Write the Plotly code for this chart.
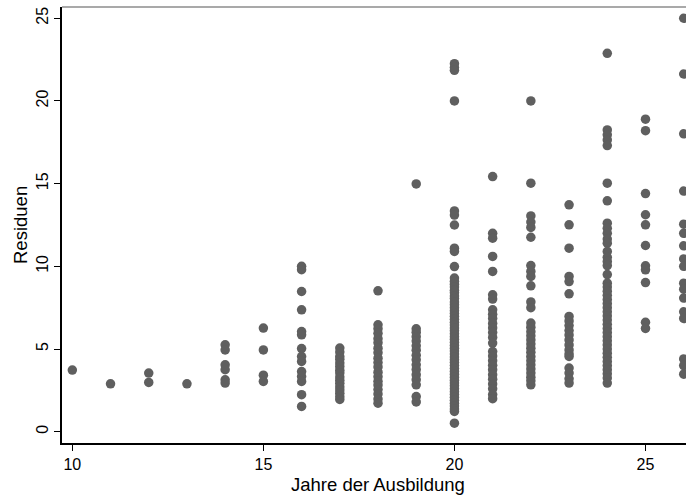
import plotly.graph_objects as go

# Years of education (x categories) and residual values read per column
years = [10, 11, 12, 13, 14, 15, 16, 17, 18, 19, 20, 21, 22, 23, 24, 25, 26]

res_10 = [3.73]
res_11 = [2.9]
res_12 = [3.55, 2.98]
res_13 = [2.9]
res_14 = [5.26, 4.95, 4.05, 3.75, 3.14, 2.94]
res_15 = [6.27, 4.95, 3.42, 3.04]
res_16 = [10.0, 9.8, 8.48, 7.37, 6.06, 5.86, 5.03, 4.55, 4.25, 3.64, 3.34, 3.04, 2.24, 1.53]
res_17 = [5.06, 4.82, 4.55, 4.38, 4.15, 3.95, 3.72, 3.55, 3.31, 3.12, 2.93, 2.71, 2.52, 2.33, 2.12, 1.95]
res_18 = [8.52, 6.47, 6.22, 5.95, 5.63, 5.38, 5.05, 4.78, 4.45, 4.18, 3.92, 3.6, 3.33, 3.05, 2.82, 2.55,
          2.28, 1.98, 1.73]
res_19 = [14.98, 6.22, 6.02, 5.75, 5.48, 5.2, 4.93, 4.62, 4.35, 4.05, 3.77, 3.45, 3.15, 2.84, 2.13, 1.8]
res_20 = [22.25, 22.02, 21.85, 20.0, 13.35, 13.1, 12.5, 11.1, 10.9, 9.99, 9.29, 9.1, 8.92, 8.75, 8.55,
          8.4, 8.2, 8.05, 7.85, 7.68, 7.5, 7.32, 7.15, 6.98, 6.8, 6.62, 6.45, 6.28, 6.1, 5.92, 5.75,
          5.58, 5.4, 5.22, 5.05, 4.88, 4.7, 4.52, 4.35, 4.18, 4.0, 3.82, 3.65, 3.48, 3.3, 3.12, 2.95,
          2.78, 2.6, 2.42, 2.25, 2.08, 1.9, 1.72, 1.55, 1.38, 1.23, 0.52]
res_21 = [15.43, 12.0, 11.7, 10.6, 9.69, 8.28, 8.02, 7.37, 7.1, 6.85, 6.55, 6.28, 6.0, 5.7, 5.36, 4.85,
          4.58, 4.3, 4.02, 3.75, 3.45, 3.18, 2.88, 2.6, 2.25, 2.0]
res_22 = [20.0, 15.03, 13.05, 12.68, 12.35, 11.76, 10.05, 9.69, 9.39, 8.82, 7.85, 7.5, 6.57, 6.32, 6.05,
          5.8, 5.55, 5.3, 5.05, 4.8, 4.55, 4.3, 4.05, 3.8, 3.55, 3.3, 3.08, 2.84]
res_23 = [13.72, 12.51, 11.1, 9.39, 9.08, 8.34, 6.97, 6.7, 6.42, 6.12, 5.85, 5.55, 5.25, 4.95, 4.7, 4.55,
          3.85, 3.55, 3.2, 2.94]
res_24 = [22.88, 18.25, 17.95, 17.64, 17.3, 15.03, 13.96, 12.61, 12.3, 12.0, 11.65, 11.4, 10.9, 10.55,
          10.3, 10.05, 9.5, 8.98, 8.75, 8.5, 8.25, 8.0, 7.75, 7.5, 7.25, 7.0, 6.75, 6.5, 6.25, 6.0, 5.75,
          5.5, 5.25, 5.0, 4.75, 4.5, 4.25, 4.0, 3.75, 3.5, 3.25, 2.94]
res_25 = [18.9, 18.2, 14.4, 13.12, 12.51, 11.26, 10.03, 9.79, 9.02, 6.62, 6.25]
res_26 = [25.0, 21.63, 18.01, 14.55, 12.55, 12.0, 11.24, 10.45, 10.0, 8.98, 8.62, 8.08, 7.25, 6.85,
          4.4, 4.0, 3.48]

x_ticks = [10, 15, 20, 25]
y_ticks = [0, 5, 10, 15, 20, 25]
x_title = "Jahre der Ausbildung"
y_title = "Residuen"

columns = [res_10, res_11, res_12, res_13, res_14, res_15, res_16, res_17, res_18, res_19,
           res_20, res_21, res_22, res_23, res_24, res_25, res_26]
xs, ys = [], []
for yr, col in zip(years, columns):
    xs.extend([yr] * len(col))
    ys.extend(col)

FONT = "Liberation Sans, Arial, sans-serif"

fig = go.Figure(go.Scatter(
    x=xs, y=ys, mode="markers",
    marker=dict(color="#5f5f5f", size=9.5, line=dict(width=0)),
    cliponaxis=True, showlegend=False,
))

fig.update_layout(
    width=686, height=495,
    margin=dict(l=62, r=0, t=7, b=52, autoexpand=False),
    paper_bgcolor="white", plot_bgcolor="white",
    font=dict(family=FONT, size=16, color="#000000"),
    xaxis=dict(
        range=[9.73, 26.06], tickmode="array", tickvals=x_ticks,
        ticks="outside", ticklen=6, tickwidth=1, tickcolor="black",
        showline=True, linecolor="black", linewidth=1.5,
        showgrid=False, zeroline=False, automargin=False,
        tickfont=dict(size=16),
    ),
    yaxis=dict(
        range=[-0.68, 25.68], tickmode="array", tickvals=y_ticks,
        ticks="outside", ticklen=6, tickwidth=1, tickcolor="black",
        showline=True, linecolor="black", linewidth=1.5,
        showgrid=False, zeroline=False, tickangle=-90, automargin=False,
        tickfont=dict(size=16),
    ),
    shapes=[dict(type="line", xref="paper", yref="paper", x0=0, x1=1, y0=1, y1=1,
                 line=dict(color="#8c8c8c", width=1.5))],
    annotations=[
        dict(text=x_title, xref="paper", yref="paper", x=(378 - 62) / 624, y=(443 - 484) / 436,
             xanchor="center", yanchor="middle", showarrow=False, font=dict(size=18.5)),
        dict(text=y_title, xref="paper", yref="paper", x=(20 - 62) / 624, y=0.5, textangle=-90,
             xanchor="center", yanchor="middle", showarrow=False, font=dict(size=18.5)),
    ],
)

fig.write_html(
    "out.html",
    config={"displayModeBar": False},
    post_script="document.body.style.margin='0';document.body.style.padding='0';"
                "document.documentElement.style.overflow='hidden';",
)
